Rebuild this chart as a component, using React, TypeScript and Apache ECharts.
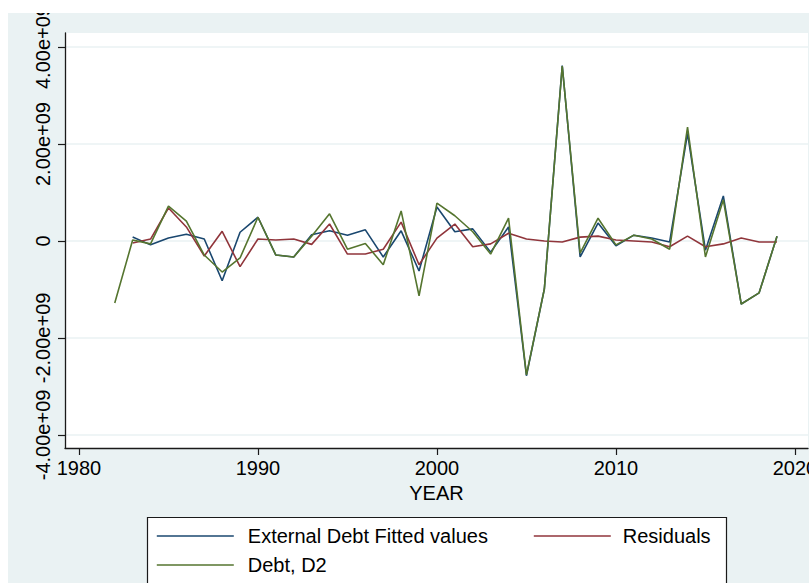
import React, { useEffect, useRef } from 'react';
import * as echarts from 'echarts';

const years = [
  1982, 1983, 1984, 1985, 1986, 1987, 1988, 1989, 1990, 1991,
  1992, 1993, 1994, 1995, 1996, 1997, 1998, 1999, 2000, 2001,
  2002, 2003, 2004, 2005, 2006, 2007, 2008, 2009, 2010, 2011,
  2012, 2013, 2014, 2015, 2016, 2017, 2018, 2019,
];

// External Debt Fitted values
const fittedValues: (number | null)[] = [
  null, 0.08e9, -0.08e9, 0.06e9, 0.14e9, 0.04e9, -0.82e9, 0.18e9, 0.49e9, -0.29e9,
  -0.33e9, 0.13e9, 0.21e9, 0.12e9, 0.23e9, -0.33e9, 0.21e9, -0.62e9, 0.70e9, 0.19e9,
  0.25e9, -0.23e9, 0.29e9, -2.78e9, -0.99e9, 3.62e9, -0.33e9, 0.37e9, -0.10e9, 0.12e9,
  0.06e9, -0.02e9, 2.22e9, -0.19e9, 0.93e9, -1.30e9, -1.07e9, 0.10e9,
];

// Residuals
const residuals: (number | null)[] = [
  null, -0.04e9, 0.04e9, 0.68e9, 0.29e9, -0.31e9, 0.20e9, -0.53e9, 0.04e9, 0.02e9,
  0.04e9, -0.07e9, 0.35e9, -0.27e9, -0.27e9, -0.17e9, 0.39e9, -0.49e9, 0.06e9, 0.35e9,
  -0.12e9, -0.06e9, 0.16e9, 0.04e9, 0.0, -0.02e9, 0.08e9, 0.10e9, 0.02e9, 0.0,
  -0.02e9, -0.12e9, 0.10e9, -0.12e9, -0.06e9, 0.06e9, -0.02e9, -0.02e9,
];

// Debt, D2
const debtD2: (number | null)[] = [
  -1.28e9, 0.02e9, -0.06e9, 0.72e9, 0.41e9, -0.29e9, -0.64e9, -0.35e9, 0.49e9, -0.29e9,
  -0.33e9, 0.10e9, 0.56e9, -0.17e9, -0.05e9, -0.49e9, 0.62e9, -1.13e9, 0.78e9, 0.52e9,
  0.19e9, -0.27e9, 0.47e9, -2.76e9, -0.99e9, 3.61e9, -0.25e9, 0.47e9, -0.08e9, 0.12e9,
  0.04e9, -0.17e9, 2.35e9, -0.33e9, 0.85e9, -1.30e9, -1.07e9, 0.10e9,
];

const yTicks = [-4e9, -2e9, 0, 2e9, 4e9];
const xTicks = [1980, 1990, 2000, 2010, 2020];

const seriesNames = ['External Debt Fitted values', 'Residuals', 'Debt, D2'];
const seriesColors = ['#1a476f', '#90353b', '#55752f'];

const FONT = '"Liberation Sans", Arial, Helvetica, sans-serif';
const BG = '#eaf2f3';

function fmtY(v: number): string {
  if (v === 0) return '0';
  const s = (Math.abs(v) / 1e9).toFixed(2) + 'e+09';
  return v < 0 ? '-' + s : s;
}

function pairs(vals: (number | null)[]) {
  return years.map((y, i) => [y, vals[i]]);
}

export default function App() {
  const ref = useRef<HTMLDivElement>(null);

  useEffect(() => {
    if (!ref.current) return;
    const chart = echarts.init(ref.current, null, { renderer: 'svg' });
    const allSeries = [fittedValues, residuals, debtD2];
    const legendCommon = {
      orient: 'vertical',
      top: 526,
      padding: 0,
      itemGap: 9,
      itemWidth: 77,
      itemHeight: 14,
      selectedMode: false,
      z: 10,
      itemStyle: { opacity: 0, borderWidth: 0 },
      lineStyle: { width: 1.6 },
    };
    chart.setOption({
      animation: false,
      backgroundColor: '#ffffff',
      textStyle: { fontFamily: FONT },
      graphic: [
        {
          type: 'rect',
          z: -10,
          shape: { x: 8, y: 13, width: 801, height: 570 },
          style: { fill: BG },
          silent: true,
        },
        {
          type: 'rect',
          z: 100,
          shape: { x: 0, y: 0, width: 809, height: 13 },
          style: { fill: '#ffffff' },
          silent: true,
        },
        {
          type: 'rect',
          z: 1,
          shape: { x: 147.5, y: 517.5, width: 579, height: 80 },
          style: { fill: '#ffffff', stroke: '#1a1a1a', lineWidth: 1.2 },
          silent: true,
        },
      ],
      grid: {
        left: 65,
        right: 1,
        top: 33,
        bottom: 135,
        show: true,
        backgroundColor: '#ffffff',
        borderWidth: 0,
        outerBoundsMode: 'none',
        containLabel: false,
      },
      xAxis: {
        type: 'value',
        min: 1979.22,
        max: 2020.73,
        name: 'YEAR',
        nameLocation: 'middle',
        nameGap: 31,
        nameTextStyle: { color: '#000', fontSize: 20, fontFamily: FONT },
        axisLine: { show: true, onZero: false, lineStyle: { color: '#1a1a1a', width: 1.3 } },
        axisTick: {
          show: true,
          length: 7,
          customValues: xTicks,
          lineStyle: { color: '#1a1a1a', width: 1.2 },
        },
        axisLabel: {
          customValues: xTicks,
          color: '#000',
          fontSize: 20,
          fontFamily: FONT,
          margin: 10,
          formatter: (v: number) => String(v),
        },
        splitLine: { show: false },
      },
      yAxis: {
        type: 'value',
        min: -4.27e9,
        max: 4.29e9,
        axisLine: { show: true, onZero: false, lineStyle: { color: '#1a1a1a', width: 1.3 } },
        axisTick: {
          show: true,
          length: 7,
          customValues: yTicks,
          lineStyle: { color: '#1a1a1a', width: 1.2 },
        },
        axisLabel: {
          customValues: yTicks,
          rotate: 90,
          color: '#000',
          fontSize: 20,
          fontFamily: FONT,
          margin: 12,
          formatter: (v: number) => fmtY(v),
        },
        splitLine: { show: true, lineStyle: { color: BG, width: 1.5 } },
      },
      legend: [
        {
          ...legendCommon,
          data: [seriesNames[0], seriesNames[2]],
          left: 156,
          textStyle: { color: '#000', fontSize: 20, fontFamily: FONT, padding: [0, 0, 0, 9] },
        },
        {
          ...legendCommon,
          data: [seriesNames[1]],
          left: 533,
          textStyle: { color: '#000', fontSize: 20, fontFamily: FONT, padding: [0, 0, 0, 7] },
        },
      ],
      series: allSeries.map((vals, i) => ({
        name: seriesNames[i],
        type: 'line',
        data: pairs(vals),
        symbol: 'none',
        showSymbol: false,
        connectNulls: false,
        lineStyle: { color: seriesColors[i], width: 1.6 },
        itemStyle: { color: seriesColors[i] },
        z: 3 + i,
      })),
    });
    return () => chart.dispose();
  }, []);

  return (
    <div
      ref={ref}
      style={{ position: 'absolute', left: 0, top: 0, width: 809, height: 583 }}
    />
  );
}
